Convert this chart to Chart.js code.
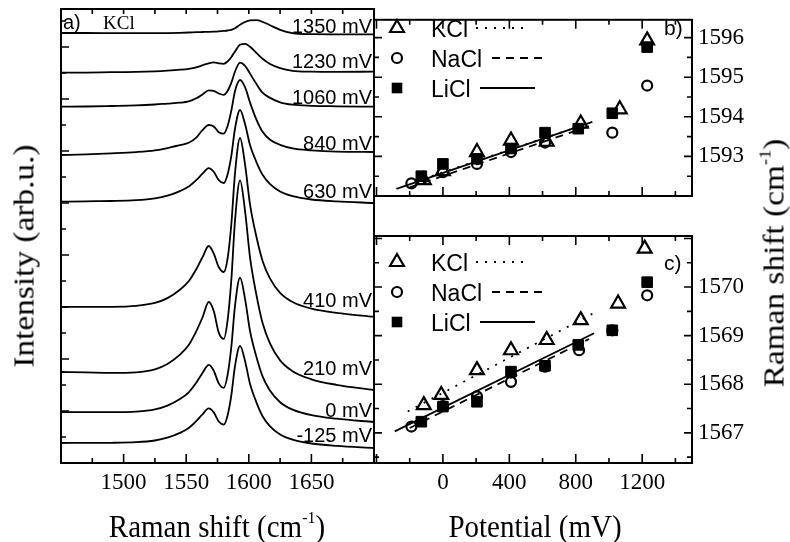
<!DOCTYPE html>
<html lang="en">
<head>
<meta charset="UTF-8">
<title>Raman spectra and band positions versus potential</title>
<script src="https://cdn.jsdelivr.net/npm/chart.js"></script>
<style>
  body { margin: 0; background: #fff; }
  #figure { position: relative; width: 790px; height: 542px; overflow: hidden; background: #fff; }
  #figure canvas { position: absolute; left: 0; top: 0; }
  .title { position: absolute; font-family: 'Liberation Serif', serif; font-size: 29px; color: #000;
           white-space: nowrap; transform: translate(-50%, -50%) scaleY(1.1); line-height: 1; }
  .title sup { font-size: 16px; vertical-align: 0; position: relative; top: -13px; }
  .rot { transform: translate(-50%, -50%) rotate(-90deg) scaleX(1.15); }
</style>
</head>
<body>
<div id="figure">
  <canvas id="spectra" width="790" height="542"></canvas>
  <canvas id="bandG" width="790" height="542"></canvas>
  <canvas id="bandD" width="790" height="542"></canvas>
  <div class="title" style="left:217px; top:527px">Raman shift (cm<sup>-1</sup>)</div>
  <div class="title" style="left:535px; top:527px">Potential (mV)</div>
  <div class="title rot" style="left:24px; top:256px">Intensity (arb.u.)</div>
  <div class="title rot" style="left:774px; top:263px">Raman shift (cm<sup>-1</sup>)</div>
</div>
<script>
// spectra (panel a), KCl, offset traces
const ramanShift = [1450, 1470, 1490, 1510, 1525, 1535, 1545, 1552, 1558, 1563, 1568, 1572, 1576, 1580,
                    1583, 1586, 1589, 1593, 1597, 1601, 1606, 1611, 1617, 1625, 1635, 1650, 1670, 1700];
const potentialLabels = ['1350 mV', '1230 mV', '1060 mV', '840 mV', '630 mV', '410 mV', '210 mV', '0 mV', '-125 mV'];
const spec1350 = [430, 430, 429.9, 429.8, 429.8, 429.9, 430.2, 430.5, 430.8, 431, 431.2, 431.4, 431.7, 432.1,
                  432.5, 433.2, 434.8, 438.2, 441, 442.6, 442.8, 441.2, 437.8, 433.2, 429.8, 428.8, 428.7, 428.7];
const spec1230 = [390.3, 390.4, 390.8, 391.1, 391.7, 392.4, 393.3, 394.2, 395.6, 397.7, 399.7, 400.6, 399.7, 399.2,
                  401.5, 405.8, 411.6, 418.2, 419.1, 416.2, 410.2, 404.2, 399, 394.8, 392.2, 391.4, 391.2, 391.3];
const spec1060 = [356.3, 356.5, 357, 357.6, 358.5, 359.4, 360.3, 361.6, 364.7, 368.6, 372.6, 372.1, 369.5, 368.2,
                  372.1, 380.1, 391.5, 400.3, 397.2, 389.3, 379.2, 370.4, 365.1, 360.7, 358.3, 357.2, 356.7, 356.3];
const spec840 = [308, 308.6, 309.6, 310.9, 312.6, 314.9, 317.9, 320.2, 325.4, 332.9, 338, 336.6, 330.8, 329.4,
                 336.7, 352.1, 372, 383, 375.8, 360.4, 343.6, 331.2, 323.2, 318.2, 314.6, 312.6, 311.3, 311];
const spec630 = [261.3, 261.7, 262, 262.8, 264.6, 267.3, 271.9, 276.5, 282.9, 289.3, 294.9, 291.2, 282.8, 280,
                 288.3, 306.8, 334.5, 353, 339, 317.8, 301.2, 288.2, 278.9, 271.5, 266.8, 263.5, 261.6, 260];
const spec410 = [156, 156.1, 156.2, 157.2, 160.1, 164.9, 173.3, 181.7, 193.7, 205.7, 217, 209.5, 196, 191,
                 204, 238, 290.2, 325, 298.6, 258.3, 226.7, 202.1, 184.4, 170.2, 161, 154.3, 150.1, 146.3];
const spec210 = [91, 90.6, 90.1, 90.7, 93.7, 99, 108.4, 118, 131.7, 145.5, 161, 152, 130.4, 124.1,
                 142, 182.2, 242.6, 282.7, 252.1, 205.4, 168.7, 140, 119.4, 102.6, 91.8, 83.7, 78.2, 73];
const spec0 = [51, 50.9, 50.8, 51.4, 53.6, 57.4, 64, 70.7, 80.3, 89.9, 98.1, 92.3, 79.6, 75.2,
               87.7, 115.6, 157.4, 185.3, 164.1, 131.8, 106.4, 86.6, 72.3, 60.8, 53.4, 47.9, 44.3, 41];
const specM125 = [20, 20.1, 20.2, 20.8, 22.5, 25.3, 30.1, 35, 41.8, 48.7, 54.6, 50.6, 41.5, 38.4,
                  47.3, 67.3, 97.2, 117.1, 102.1, 79, 60.9, 46.8, 36.7, 28.5, 23.3, 19.5, 17.1, 15];
const spectra = [spec1350, spec1230, spec1060, spec840, spec630, spec410, spec210, spec0, specM125];

// panel b: upper band position vs potential
const kclPotG = [-115, 0, 205, 410, 625, 830, 1065, 1230];
const kclShiftG = [1592.40, 1592.63, 1593.11, 1593.40, 1593.37, 1593.83, 1594.19, 1595.93];
const naclPotG = [-190, 0, 205, 410, 615, 1020, 1230];
const naclShiftG = [1592.32, 1592.60, 1592.81, 1593.11, 1593.35, 1593.60, 1594.79];
const liclPotG = [-130, 0, 205, 410, 615, 815, 1020, 1230];
const liclShiftG = [1592.50, 1592.81, 1592.94, 1593.20, 1593.60, 1593.70, 1594.09, 1595.76];
const kclFitPotG = [-170, 900], kclFitShiftG = [1592.36, 1593.87];
const naclFitPotG = [-200, 880], naclFitShiftG = [1592.22, 1593.76];
const liclFitPotG = [-280, 900], liclFitShiftG = [1592.18, 1593.87];

// panel c: lower band position vs potential
const kclPotD = [-115, -10, 205, 410, 625, 830, 1055, 1215];
const kclShiftD = [1567.57, 1567.78, 1568.29, 1568.70, 1568.91, 1569.32, 1569.66, 1570.79];
const naclPotD = [-190, 0, 205, 410, 615, 820, 1020, 1230];
const naclShiftD = [1567.13, 1567.55, 1567.75, 1568.05, 1568.36, 1568.70, 1569.11, 1569.83];
const liclPotD = [-130, 0, 205, 410, 615, 815, 1020, 1230];
const liclShiftD = [1567.23, 1567.54, 1567.64, 1568.26, 1568.38, 1568.81, 1569.11, 1570.10];
const kclFitPotD = [-212, 900], kclFitShiftD = [1567.44, 1569.45];
const naclFitPotD = [-200, 880], naclFitShiftD = [1567.10, 1568.93];
const liclFitPotD = [-290, 910], liclFitShiftD = [1567.03, 1569.05];

// tick labels
const ramanTicks = [1500, 1550, 1600, 1650];
const potentialTicks = [0, 400, 800, 1200];
const shiftTicksG = [1593, 1594, 1595, 1596];
const shiftTicksD = [1567, 1568, 1569, 1570];

// layout (pixels)
const labelBaselines = [33, 68, 104, 150, 198, 307, 375, 417, 442];
const SANS = "'Liberation Sans', Arial, sans-serif";
const SERIF = "'Liberation Serif', 'Times New Roman', serif";
const X_AXIS_H = 40, Y_AXIS_W = 60;

Chart.defaults.color = '#000';
Chart.defaults.font.family = SERIF;

const pts = (xs, ys) => xs.map((x, i) => ({ x: x, y: ys[i] }));
const fixed = list => scale => { scale.ticks = list.map(v => ({ value: v })); };
const fixH = s => { s.height = X_AXIS_H; };
const fixW = s => { s.width = Y_AXIS_W; };
const plain = v => String(v);

function isMajor(v, step) {
  const r = v / step;
  return Math.abs(r - Math.round(r)) < 1e-6;
}

// inward ticks and a box round the plot area
function frame(o) {
  return {
    id: 'frame',
    afterDatasetsDraw(chart) {
      const { ctx, chartArea: a } = chart;
      const x = chart.scales.x, y = chart.scales.y;
      ctx.save();
      ctx.strokeStyle = '#000';
      ctx.lineWidth = 1.6;
      ctx.beginPath();
      for (let v = o.x0; v <= x.max + 1e-9; v += o.xStep) {
        const px = x.getPixelForValue(v);
        if (px <= a.left + 1 || px >= a.right - 1) continue;
        const len = isMajor(v, o.xMajor) ? 9 : 5;
        ctx.moveTo(px, a.bottom); ctx.lineTo(px, a.bottom - len);
        ctx.moveTo(px, a.top); ctx.lineTo(px, a.top + (o.topLen || len));
      }
      for (let v = o.y0; v <= y.max + 1e-9; v += o.yStep) {
        const py = y.getPixelForValue(v);
        if (py <= a.top + 1 || py >= a.bottom - 1) continue;
        const len = isMajor(v, o.yMajor) ? 8 : 5;
        ctx.moveTo(a.left, py); ctx.lineTo(a.left + len, py);
        if (o.right) { ctx.moveTo(a.right, py); ctx.lineTo(a.right - len, py); }
      }
      ctx.stroke();
      ctx.lineWidth = 2;
      ctx.strokeRect(a.left, a.top, a.right - a.left, a.bottom - a.top);
      ctx.restore();
    }
  };
}

function marker(ctx, style, x, y) {
  ctx.beginPath();
  if (style === 'triangle') {
    const r = 8;
    ctx.moveTo(x, y - r);
    ctx.lineTo(x + 0.866 * r, y + 0.5 * r);
    ctx.lineTo(x - 0.866 * r, y + 0.5 * r);
    ctx.closePath();
    ctx.lineWidth = 2.2; ctx.stroke();
  } else if (style === 'circle') {
    ctx.arc(x, y, 5, 0, Math.PI * 2);
    ctx.lineWidth = 2.2; ctx.stroke();
  } else {
    const h = 7.5 * Math.SQRT1_2;
    ctx.rect(x - h, y - h, 2 * h, 2 * h);
    ctx.fill();
  }
}

function legend(top, tag, tagY) {
  const rows = [
    { text: 'KCl', style: 'triangle', dash: [2, 7], x1: 476, x2: 528 },
    { text: 'NaCl', style: 'circle', dash: [8, 6], x1: 492, x2: 543 },
    { text: 'LiCl', style: 'rect', dash: [], x1: 480, x2: 535 }
  ];
  return {
    id: 'legendRows',
    afterDraw(chart) {
      const ctx = chart.ctx;
      ctx.save();
      ctx.fillStyle = '#000';
      ctx.strokeStyle = '#000';
      rows.forEach((r, i) => {
        const cy = top + i * 30;
        marker(ctx, r.style, 397, cy);
        ctx.font = '23px ' + SANS;
        ctx.textBaseline = 'alphabetic';
        ctx.textAlign = 'left';
        ctx.fillText(r.text, 431, cy + 9);
        ctx.beginPath();
        ctx.setLineDash(r.dash);
        ctx.lineWidth = 1.8;
        ctx.moveTo(r.x1, cy); ctx.lineTo(r.x2, cy);
        ctx.stroke();
        ctx.setLineDash([]);
      });
      ctx.font = '21px ' + SANS;
      ctx.fillText(tag, 664, tagY);
      ctx.restore();
    }
  };
}

const spectrumLabels = {
  id: 'spectrumLabels',
  afterDraw(chart) {
    const ctx = chart.ctx;
    ctx.save();
    ctx.fillStyle = '#000';
    ctx.font = '20px ' + SANS;
    ctx.textAlign = 'right';
    ctx.textBaseline = 'alphabetic';
    potentialLabels.forEach((t, i) => ctx.fillText(t, 372, labelBaselines[i]));
    ctx.textAlign = 'left';
    ctx.font = '20px ' + SANS;
    ctx.fillText('a)', 63, 29);
    ctx.font = '19px ' + SERIF;
    ctx.fillText('KCl', 103, 29);
    ctx.restore();
  }
};

const base = {
  responsive: false,
  animation: false,
  devicePixelRatio: 1,
  events: [],
  plugins: { legend: { display: false }, tooltip: { enabled: false } }
};
const tickFont = { family: SERIF, size: 23 };

new Chart(document.getElementById('spectra'), {
  type: 'line',
  data: {
    datasets: spectra.map(s => ({
      data: pts(ramanShift, s),
      borderColor: '#000',
      borderWidth: 1.8,
      pointRadius: 0,
      cubicInterpolationMode: 'monotone',
      fill: false
    }))
  },
  options: Object.assign({}, base, {
    layout: { padding: { left: 61, top: 9, right: 416, bottom: 79 - X_AXIS_H } },
    scales: {
      x: {
        type: 'linear', min: 1450, max: 1700,
        grid: { display: false, drawTicks: false }, border: { display: false },
        ticks: { font: tickFont, padding: 6, autoSkip: false, maxRotation: 0, callback: plain },
        afterBuildTicks: fixed(ramanTicks), afterFit: fixH
      },
      y: { type: 'linear', min: 0, max: 454, display: false }
    }
  }),
  plugins: [frame({ x0: 1450, xStep: 25, xMajor: 50, y0: 0, yStep: 26, yMajor: 52, topLen: 5 }), spectrumLabels]
});

function bandChart(id, padTop, padBottom, yMin, yMax, yTicks, showX, sets, legendTop, tag, tagY) {
  const fitLine = (xs, ys, dash) => ({
    data: pts(xs, ys), showLine: true, borderColor: '#000', borderWidth: 1.8,
    borderDash: dash, pointRadius: 0, fill: false
  });
  const scatter = (xs, ys, style, r, fillCol, bw) => ({
    data: pts(xs, ys), showLine: false, pointStyle: style, pointRadius: r,
    backgroundColor: fillCol, borderColor: '#000', borderWidth: bw, clip: false
  });
  return new Chart(document.getElementById(id), {
    type: 'scatter',
    data: {
      datasets: [
        fitLine(sets.liFit[0], sets.liFit[1], []),
        fitLine(sets.naFit[0], sets.naFit[1], [8, 6]),
        fitLine(sets.kFit[0], sets.kFit[1], [2, 7]),
        scatter(sets.li[0], sets.li[1], 'rect', 7.5, '#000', 1),
        scatter(sets.na[0], sets.na[1], 'circle', 5, 'rgba(0,0,0,0)', 2.2),
        scatter(sets.k[0], sets.k[1], 'triangle', 8, 'rgba(0,0,0,0)', 2.2)
      ]
    },
    options: Object.assign({}, base, {
      layout: { padding: { left: 374, top: padTop, right: 98 - Y_AXIS_W, bottom: showX ? padBottom - X_AXIS_H : padBottom } },
      scales: {
        x: {
          type: 'linear', min: -415, max: 1500, display: showX,
          grid: { display: false, drawTicks: false }, border: { display: false },
          ticks: { font: tickFont, padding: 6, autoSkip: false, maxRotation: 0, callback: plain },
          afterBuildTicks: fixed(potentialTicks), afterFit: fixH
        },
        y: {
          type: 'linear', position: 'right', min: yMin, max: yMax,
          grid: { display: false, drawTicks: false }, border: { display: false },
          ticks: { font: tickFont, padding: 6, autoSkip: false, callback: plain },
          afterBuildTicks: fixed(yTicks), afterFit: fixW
        }
      }
    }),
    plugins: [frame({ x0: -400, xStep: 200, xMajor: 400, y0: Math.ceil(yMin * 2) / 2, yStep: 0.5, yMajor: 1, right: true }),
              legend(legendTop, tag, tagY)]
  });
}

bandChart('bandG', 9, 306, 1592.0, 1596.45, shiftTicksG, false, {
  k: [kclPotG, kclShiftG], na: [naclPotG, naclShiftG], li: [liclPotG, liclShiftG],
  kFit: [kclFitPotG, kclFitShiftG], naFit: [naclFitPotG, naclFitShiftG], liFit: [liclFitPotG, liclFitShiftG]
}, 28, 'b)', 35);

bandChart('bandD', 236, 79, 1566.38, 1571.05, shiftTicksD, true, {
  k: [kclPotD, kclShiftD], na: [naclPotD, naclShiftD], li: [liclPotD, liclShiftD],
  kFit: [kclFitPotD, kclFitShiftD], naFit: [naclFitPotD, naclFitShiftD], liFit: [liclFitPotD, liclFitShiftD]
}, 262, 'c)', 270);
</script>
</body>
</html>
